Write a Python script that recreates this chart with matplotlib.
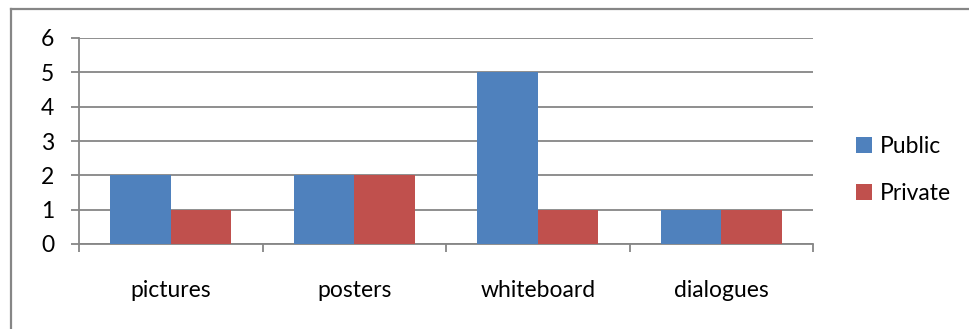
import numpy as np
import matplotlib.pyplot as plt
from matplotlib.lines import Line2D

categories = ["pictures", "posters", "whiteboard", "dialogues"]
public = [2, 2, 5, 1]
private = [1, 2, 1, 1]
series_names = ["Public", "Private"]
colors = ["#4F81BD", "#C0504D"]

plt.rcParams['font.family'] = ['Lato', 'DejaVu Sans']
FS = 16.5
GRAY = "#868686"

fig = plt.figure(figsize=(9.69, 3.29), dpi=100)

# outer chart frame (left and top edges visible)
fig.add_artist(Line2D([11/969, 11/969], [0, 1 - 9/329], color=GRAY, lw=1.6,
                      transform=fig.transFigure))
fig.add_artist(Line2D([11/969, 1], [1 - 9/329, 1 - 9/329], color=GRAY, lw=1.6,
                      transform=fig.transFigure))

ax = fig.add_axes([79/969, 1 - 244/329, (813 - 79)/969, (244 - 38)/329])

x = np.arange(len(categories))
w = 0.33
ax.bar(x - w/2, public, w, color=colors[0], label=series_names[0], zorder=3)
ax.bar(x + w/2, private, w, color=colors[1], label=series_names[1], zorder=3)

ax.set_xlim(-0.5, len(categories) - 0.5)
ax.set_ylim(0, 6)
ax.set_yticks(range(0, 7))
ax.yaxis.grid(True, color=GRAY, lw=1.3, zorder=0)
ax.set_axisbelow(True)

for side in ["top", "right"]:
    ax.spines[side].set_visible(False)
for side in ["left", "bottom"]:
    ax.spines[side].set_color(GRAY)
    ax.spines[side].set_linewidth(1.3)

# category boundaries carry the tick marks, labels sit at the centres
ax.set_xticks(np.arange(len(categories) + 1) - 0.5)
ax.set_xticklabels([])
ax.tick_params(axis="x", length=6, width=1.3, color=GRAY, direction="out")
ax.set_xticks(x, minor=True)
ax.set_xticklabels(categories, minor=True, fontsize=FS)
ax.tick_params(axis="x", which="minor", length=0, pad=26)
ax.tick_params(axis="y", length=6, width=1.3, color=GRAY, labelsize=FS, pad=12)

ax.legend(loc="center left", bbox_to_anchor=(1.03, 0.36), frameon=False, fontsize=FS,
          handlelength=0.7, handleheight=0.7, labelspacing=1.15, handletextpad=0.35)

fig.savefig("out.png", dpi=100)
